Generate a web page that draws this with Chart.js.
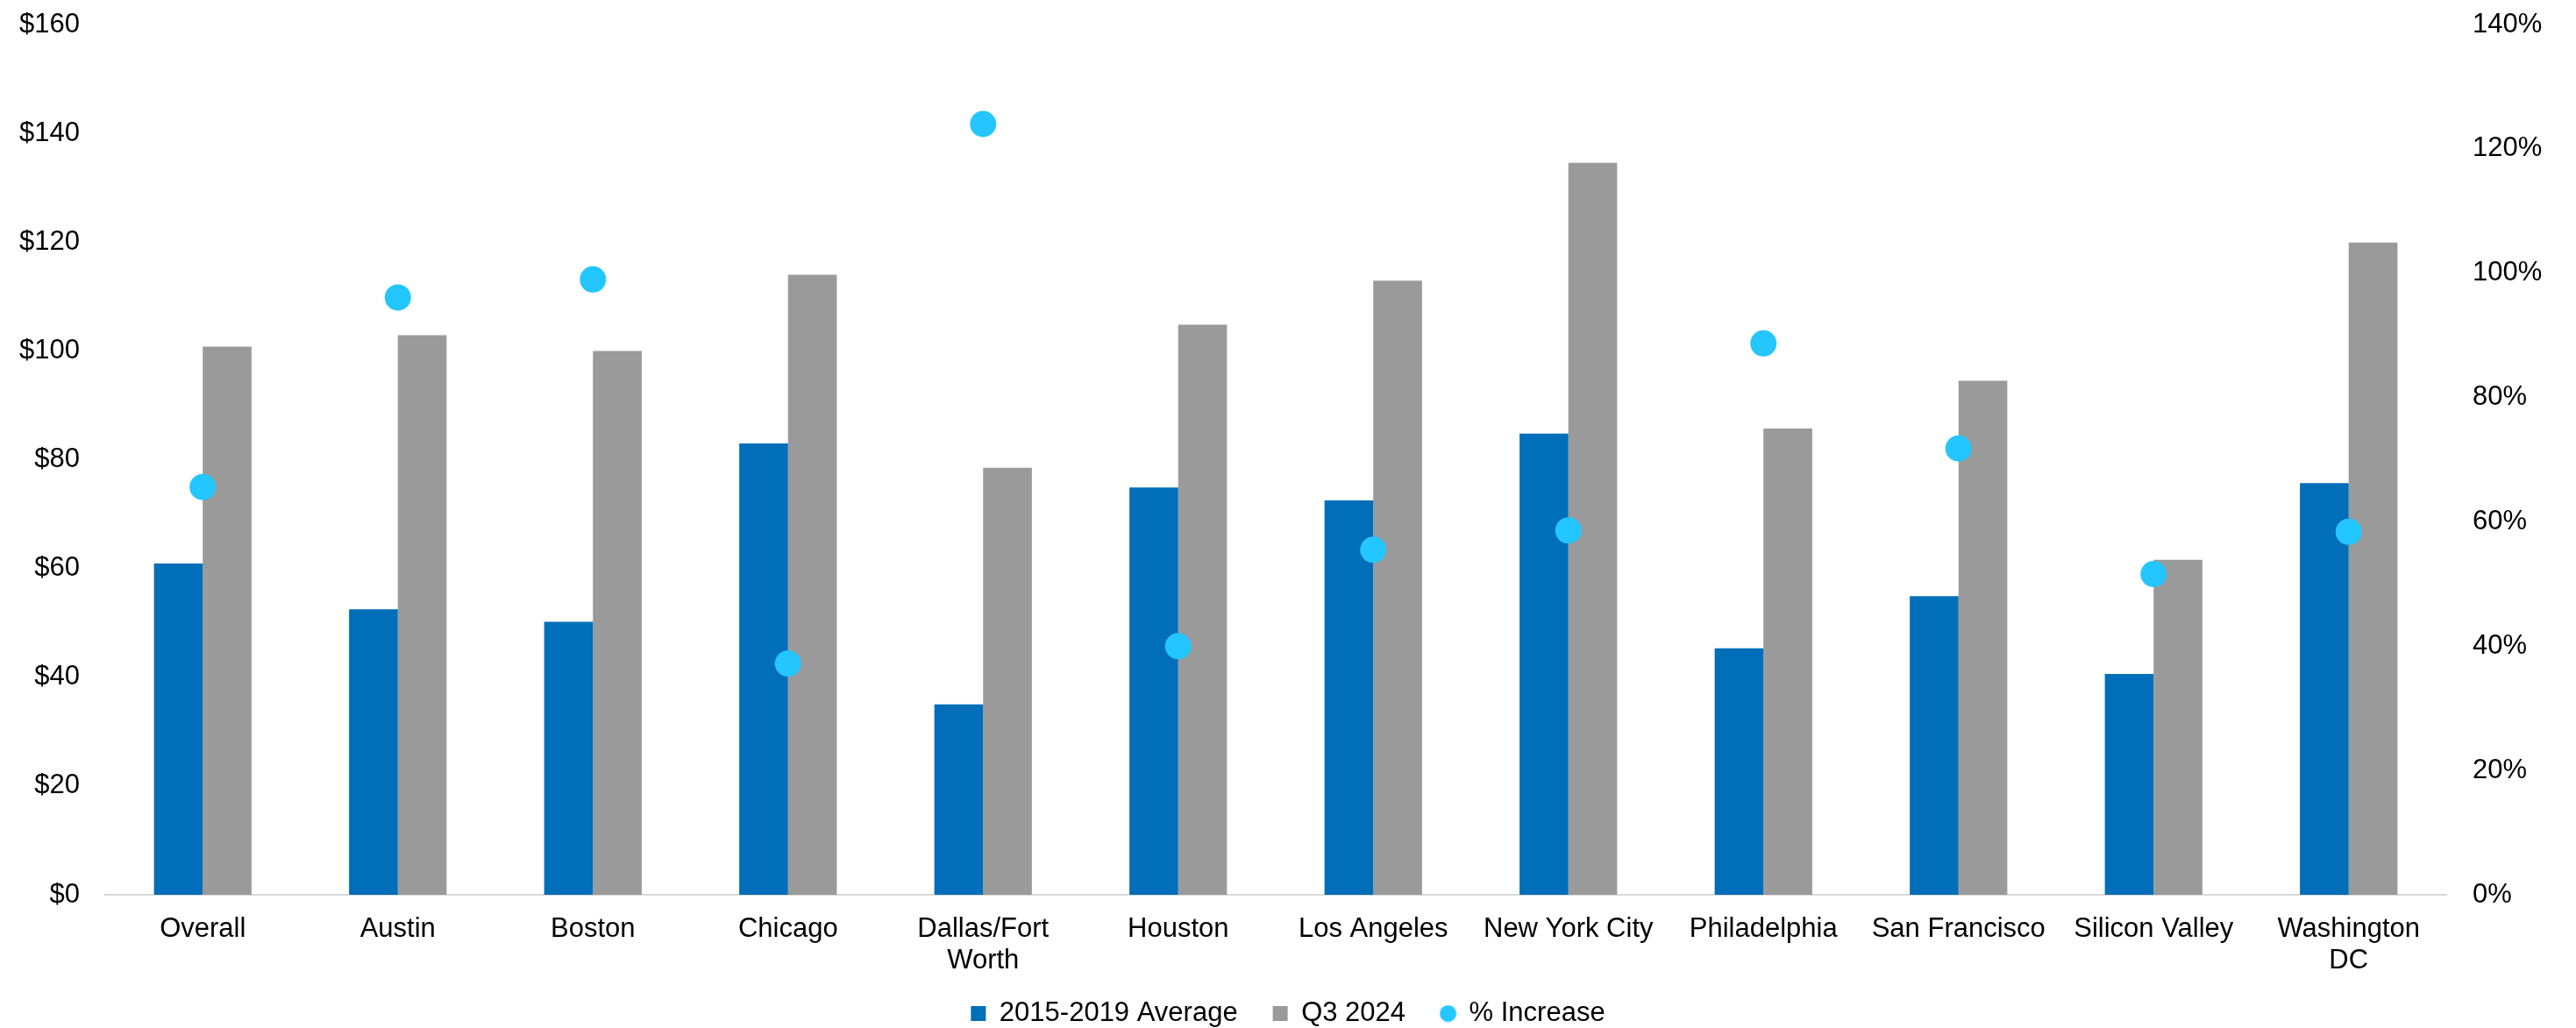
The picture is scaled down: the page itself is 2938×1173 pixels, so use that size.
<!DOCTYPE html>
<html>
<head>
<meta charset="utf-8">
<script src="https://cdn.jsdelivr.net/npm/chart.js@4/dist/chart.umd.min.js"></script>
<style>
  html, body { margin: 0; padding: 0; background: #ffffff; }
  #wrap { width: 2938px; height: 1173px; }
</style>
</head>
<body>
<div id="wrap"><canvas id="c" width="2938" height="1173"></canvas></div>
<script>
const categories = ["Overall", "Austin", "Boston", "Chicago", ["Dallas/Fort", "Worth"], "Houston", "Los Angeles", "New York City", "Philadelphia", "San Francisco", "Silicon Valley", ["Washington", "DC"]];
const avg2015_2019 = [60.9, 52.5, 50.2, 83.0, 35.0, 74.9, 72.5, 84.8, 45.3, 54.9, 40.6, 75.7];
const q3_2024 = [100.8, 102.9, 100.0, 114.0, 78.5, 104.8, 112.9, 134.6, 85.7, 94.5, 61.6, 119.9];
const pctIncrease = [65.6, 96.1, 99.0, 37.2, 124.0, 40.0, 55.5, 58.6, 88.7, 71.8, 51.6, 58.4];
const seriesNames = ["2015-2019 Average", "Q3 2024", "% Increase"];
const leftTicks = { min: 0, max: 160, step: 20 };
const rightTicks = { min: 0, max: 140, step: 20 };

const FONT = "'Liberation Sans', Arial, Helvetica, sans-serif";
const BLUE = "#006EB8";
const GRAY = "#9A9A9A";
const CYAN = "#24C6FF";
const COLORS = [BLUE, GRAY, CYAN];

Chart.defaults.font.family = FONT;
Chart.defaults.font.size = 31;
Chart.defaults.color = "#000000";

// small legend marker for the dot series
const dotMarker = document.createElement("canvas");
dotMarker.width = 20; dotMarker.height = 20;
(function () {
  const g = dotMarker.getContext("2d");
  g.fillStyle = CYAN;
  g.beginPath(); g.arc(10, 10, 9.5, 0, Math.PI * 2); g.fill();
})();

// let the two-line category labels draw below the (shortened) x-axis box
const unclipLabels = {
  id: "unclipLabels",
  afterLayout(chart) {
    const x = chart.scales.x;
    if (x) { x.bottom = x.top + 160; }
  }
};

new Chart(document.getElementById("c"), {
  plugins: [unclipLabels],
  data: {
    labels: categories,
    datasets: [
      { type: "bar", label: seriesNames[0], data: avg2015_2019, backgroundColor: BLUE, yAxisID: "y", order: 2,
        categoryPercentage: 0.5, barPercentage: 1.0 },
      { type: "bar", label: seriesNames[1], data: q3_2024, backgroundColor: GRAY, yAxisID: "y", order: 2,
        categoryPercentage: 0.5, barPercentage: 1.0 },
      { type: "line", label: seriesNames[2], data: pctIncrease, yAxisID: "y1", order: 0,
        showLine: false, pointRadius: 15, pointHoverRadius: 15, pointBackgroundColor: CYAN,
        pointBorderWidth: 0, borderColor: CYAN, backgroundColor: CYAN }
    ]
  },
  options: {
    responsive: false,
    animation: false,
    devicePixelRatio: 1,
    layout: { autoPadding: false, padding: { top: 28, left: 0, right: 0, bottom: -9 } },
    plugins: {
      tooltip: { enabled: false },
      legend: {
        position: "bottom",
        labels: {
          usePointStyle: true,
          boxWidth: 17,
          boxHeight: 17,
          padding: 40,
          font: { size: 31, family: FONT },
          color: "#000000",
          generateLabels(chart) {
            const items = Chart.defaults.plugins.legend.labels.generateLabels(chart);
            items.sort((a, b) => a.datasetIndex - b.datasetIndex);
            items.forEach(it => {
              const i = it.datasetIndex;
              it.pointStyle = i === 2 ? dotMarker : "rect";
              it.lineWidth = 0;
              it.strokeStyle = "rgba(0,0,0,0)";
              it.fillStyle = COLORS[i];
            });
            return items;
          }
        }
      }
    },
    scales: {
      x: {
        grid: { display: false, drawTicks: false },
        border: { display: true, color: "#D9D9D9", width: 2 },
        ticks: { padding: 21, maxRotation: 0, autoSkip: false, font: { size: 31, lineHeight: 1.17 }, color: "#000000" },
        afterFit(s) { s.height = 80; }
      },
      y: {
        position: "left",
        min: leftTicks.min, max: leftTicks.max,
        grid: { display: false, drawTicks: false },
        border: { display: false },
        ticks: { stepSize: leftTicks.step, padding: 29, color: "#000000",
          callback: v => "$" + v },
        afterFit(s) { s.width = 120; s.paddingTop = 0; s.paddingBottom = 0; }
      },
      y1: {
        position: "right",
        min: rightTicks.min, max: rightTicks.max,
        grid: { display: false, drawTicks: false },
        border: { display: false },
        ticks: { stepSize: rightTicks.step, padding: 30, color: "#000000",
          callback: v => v + "%" },
        afterFit(s) { s.width = 148; s.paddingTop = 0; s.paddingBottom = 0; }
      }
    }
  }
});
</script>
</body>
</html>
